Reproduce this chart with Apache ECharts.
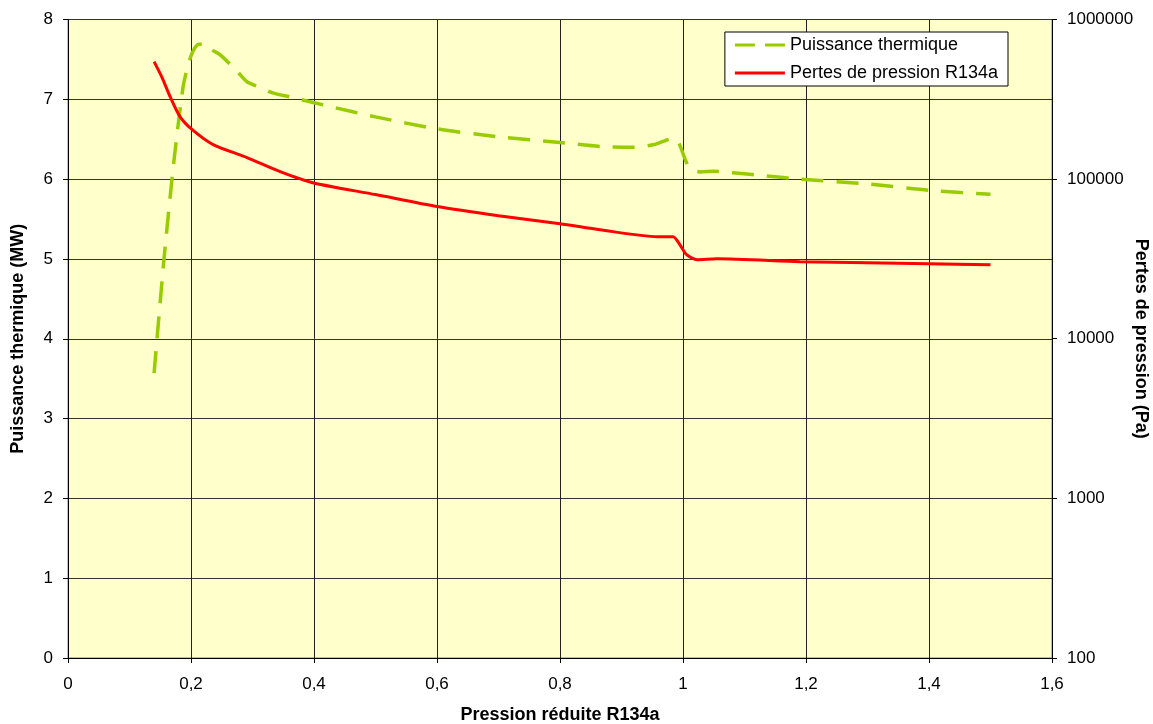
<!DOCTYPE html>
<html><head><meta charset="utf-8">
<script src="https://cdn.jsdelivr.net/npm/echarts@6/dist/echarts.min.js"></script>
<style>html,body{margin:0;padding:0;background:#fff}#c{width:1153px;height:724px}</style>
</head><body><div id="c"></div>
<script>
const puissanceX = [0.140,0.156,0.172,0.187,0.195,0.203,0.213,0.224,0.234,0.247,0.275,0.291,0.312,0.333,0.361,0.426,0.5,0.6,0.7,0.8,0.865,0.92,0.951,0.97,0.984,0.992,1.005,1.011,1.028,1.05,1.081,1.136,1.19,1.3,1.4,1.5];
const puissanceY = [3.57,4.99,6.21,7.15,7.42,7.60,7.69,7.69,7.62,7.56,7.35,7.22,7.15,7.08,7.03,6.91,6.78,6.63,6.53,6.46,6.41,6.40,6.43,6.48,6.51,6.47,6.22,6.13,6.09,6.10,6.08,6.04,6.00,5.94,5.86,5.81];
const pertesX = [0.140,0.153,0.166,0.182,0.202,0.236,0.291,0.345,0.398,0.5,0.6,0.7,0.8,0.865,0.958,0.984,0.995,1.006,1.023,1.055,1.19,1.3,1.4,1.5];
const pertesY = [545000,433000,329000,246500,204000,164500,136500,111400,95000,80000,67300,59000,52600,48200,43600,43600,38800,33600,31300,31750,30400,29900,29500,29100];
const xTicks = [0,0.2,0.4,0.6,0.8,1,1.2,1.4,1.6];

const font = 'Liberation Sans, Arial, sans-serif';
const chart = echarts.init(document.getElementById('c'));
const fmt = v => String(Math.round(v*10)/10).replace('.', ',');
chart.setOption({
  animation:false,
  textStyle:{fontFamily:font},
  grid:{left:68,top:19.5,right:101,bottom:66,outerBoundsMode:'none',containLabel:false,show:true,backgroundColor:'#FFFFCC',borderColor:'#808080',borderWidth:1},
  legend:{
    right:145, top:32, orient:'vertical', backgroundColor:'#fff', borderColor:'#000', borderWidth:1,
    padding:[4,10,4,10], itemGap:10, itemWidth:50, itemHeight:12,
    textStyle:{fontSize:18,color:'#000',fontFamily:font},
    data:[{name:'Puissance thermique',icon:'path://M0,5 L20,5 L20,8 L0,8 Z M30,5 L50,5 L50,8 L30,8 Z'},{name:'Pertes de pression R134a',icon:'path://M0,5 L50,5 L50,8 L0,8 Z'}]
  },
  xAxis:{type:'value',min:0,max:1.6,interval:0.2,
    name:'Pression réduite R134a',nameLocation:'middle',nameGap:48,nameMoveOverlap:false,
    nameTextStyle:{fontSize:18,fontWeight:'bold',color:'#000',fontFamily:font},
    axisLine:{lineStyle:{color:'#000'}},axisTick:{show:true,length:5,lineStyle:{color:'#000'}},
    axisLabel:{fontSize:17,color:'#000',margin:18,formatter:v=>xTicks.includes(Math.round(v*10)/10)?fmt(v):''},
    splitLine:{show:true,lineStyle:{color:'#222',width:1}}},
  yAxis:[
    {type:'value',min:0,max:8,interval:1,position:'left',
     name:'Puissance thermique (MW)',nameLocation:'middle',nameGap:41,nameRotate:90,nameMoveOverlap:false,
     nameTextStyle:{fontSize:18,fontWeight:'bold',color:'#000',fontFamily:font},
     axisLine:{show:true,lineStyle:{color:'#000'}},axisTick:{show:true,length:5,lineStyle:{color:'#000'}},
     axisLabel:{fontSize:17,color:'#000',margin:15},
     splitLine:{show:true,lineStyle:{color:'#333',width:1}}},
    {type:'log',logBase:10,min:100,max:1000000,position:'right',
     name:'Pertes de pression (Pa)',nameLocation:'middle',nameGap:80,nameRotate:-90,nameMoveOverlap:false,
     nameTextStyle:{fontSize:18,fontWeight:'bold',color:'#000',fontFamily:font},
     axisLine:{show:true,lineStyle:{color:'#000'}},axisTick:{show:true,length:5,lineStyle:{color:'#000'}},
     axisLabel:{fontSize:17,color:'#000',margin:15,formatter:v=>String(Math.round(v))},
     splitLine:{show:false}}
  ],
  series:[
    {name:'Puissance thermique',type:'line',yAxisIndex:0,showSymbol:false,smooth:0.25,
     color:'#99CC00',lineStyle:{color:'#99CC00',width:3.5,type:[22,13]},
     data:puissanceX.map((x,i)=>[x,puissanceY[i]])},
    {name:'Pertes de pression R134a',type:'line',yAxisIndex:1,showSymbol:false,smooth:0.25,
     color:'#FF0000',lineStyle:{color:'#FF0000',width:3},
     data:pertesX.map((x,i)=>[x,pertesY[i]])}
  ]
});
</script></body></html>
